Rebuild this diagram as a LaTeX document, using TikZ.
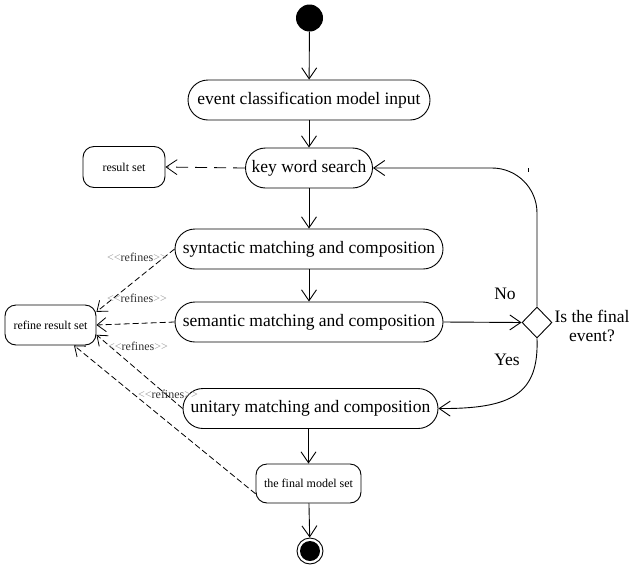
\documentclass[tikz,border=0pt]{standalone}
\usepackage{fontspec}
\setmainfont{Liberation Serif}
\usetikzlibrary{arrows.meta,shapes.geometric}

\tikzset{
  big/.style={font=\fontsize{17.5}{19}\selectfont},
  small/.style={font=\fontsize{12}{13}\selectfont},
  action/.style={draw, line width=0.9pt, rectangle, rounded corners=20pt,
    minimum height=40pt, inner sep=0pt, big},
  datanode/.style={draw, line width=0.9pt, rectangle, rounded corners=11pt,
    minimum height=40pt, inner sep=0pt, small},
  flow/.style={line width=0.9pt, -{Straight Barb[length=11pt,width=15pt,line width=0.9pt]}},
  dep/.style={line width=0.8pt, dash pattern=on 6pt off 3pt,
    -{Straight Barb[length=9pt,width=14pt,line width=0.8pt]}},
  deplong/.style={line width=0.8pt, dash pattern=on 12pt off 7pt,
    -{Straight Barb[length=11pt,width=15pt,line width=0.8pt]}},
  stereo/.style={small, inner sep=0pt, text=black!80}
}
% stereotype brackets kept as separate characters
\newcommand{\refineslabel}{{\color{black!40}<\kern0pt<}refines{\color{black!40}>\kern0pt>}}

\begin{document}
\begin{tikzpicture}[x=1pt,y=-1pt]
  \useasboundingbox (0,0) rectangle (632,568);

  % start and end states
  \node[circle, fill=black, minimum size=27pt, inner sep=0pt] (init) at (309.5,18) {};
  \node[circle, draw, line width=0.9pt, fill=white, minimum size=26pt, inner sep=0pt] (fnl) at (310,551) {};
  \fill (fnl.center) circle (10);

  % main flow of actions
  \node[action, minimum width=242pt] (ecm) at (309,100) {event classification model input};
  \node[action, minimum width=127pt] (kws) at (309,168) {key word search};
  \node[action, minimum width=268pt] (syn) at (309,249) {syntactic matching and composition};
  \node[action, minimum width=268pt] (sem) at (309,322) {semantic matching and composition};
  \node[action, minimum width=255pt] (uni) at (310.5,408.5) {unitary matching and composition};
  \node[datanode, minimum width=105pt, minimum height=39pt] (fin) at (308.5,483.5) {the final model set};

  % side objects
  \node[datanode, minimum width=82pt, minimum height=41pt] (rs) at (124,167) {result set};
  \node[datanode, minimum width=91pt] (ref) at (50.5,325) {refine result set};

  % decision
  \node[diamond, draw, line width=0.9pt, minimum width=30pt, minimum height=31pt,
        inner sep=0pt] (dia) at (537,322.5) {};
  \node[big, align=center, inner sep=0pt] (q) at (592,326) {Is the final\\event?};
  \node[big, inner sep=0pt] (no) at (505,294) {No};
  \node[big, inner sep=0pt] (yes) at (507,360) {Yes};

  % control flow
  \draw[flow] (init) -- (ecm);
  \draw[flow] (ecm) -- (kws);
  \draw[flow] (kws) -- (syn);
  \draw[flow] (syn) -- (sem);
  \draw[flow] (sem.east) -- (dia.west);
  \draw[flow, rounded corners=45pt] (dia.north) |- (kws.east);
  \draw[line width=0.6pt] (528,168) -- (528,172);
  \draw[flow] (dia.south) .. controls (539,394) and (512,409) .. (uni.east);
  \draw[flow] (uni.south -| fin.north) -- (fin.north);
  \draw[flow] (fin) -- (fnl);

  % dependencies
  \draw[deplong] (kws.west) -- (rs.east);
  \draw[dep] (syn.west) -- (ref.16);
  \draw[dep] (sem.west) -- (ref.east);
  \draw[dep] (uni.west) -- (ref.348);
  \draw[dep] (fin.191) -- (ref.319);

  % stereotypes
  \node[stereo] (r1) at (137,257) {\refineslabel};
  \node[stereo] (r2) at (137,298) {\refineslabel};
  \node[stereo] (r3) at (138,346) {\refineslabel};
  \node[stereo] (r4) at (168,394) {\refineslabel};
\end{tikzpicture}
\end{document}
